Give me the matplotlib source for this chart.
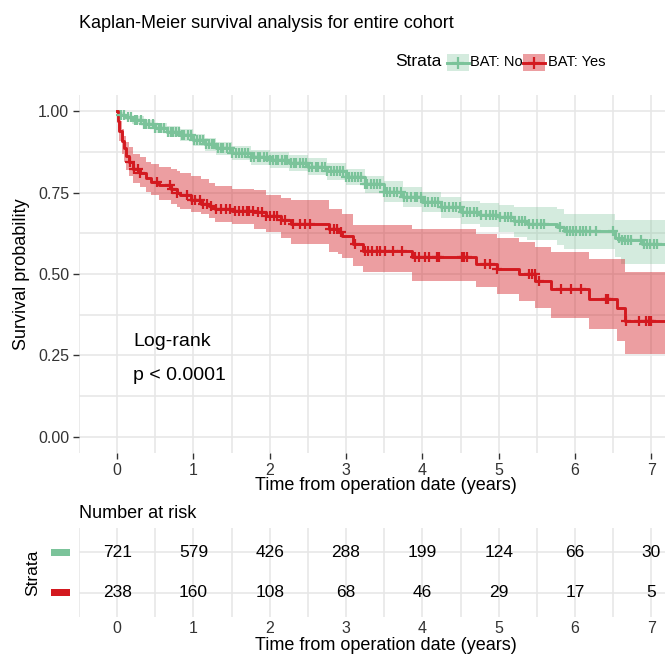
import numpy as np
import matplotlib
matplotlib.use("Agg")
import matplotlib.pyplot as plt
from matplotlib.patches import Rectangle
from matplotlib.lines import Line2D

plt.rcParams['font.family'] = ['Liberation Sans', 'DejaVu Sans']

# ---- data ----
groups = ["BAT: No", "BAT: Yes"]
colors = ["#7BC39A", "#D3191F"]

# BAT: No  (step curve, post)
no_t  = [0, 0.02, 0.10, 0.20, 0.35, 0.50, 0.65, 0.83, 1.00, 1.15, 1.30, 1.50, 1.75, 2.00, 2.25, 2.50,
         2.75, 3.00, 3.25, 3.50, 3.75, 4.00, 4.25, 4.50, 4.75, 5.00, 5.20, 5.37, 5.77, 5.85, 6.52, 6.60, 6.88, 7.30]
no_s  = [1.0, 0.990, 0.982, 0.973, 0.960, 0.948, 0.937, 0.927, 0.911, 0.898, 0.886, 0.872, 0.858, 0.850, 0.840, 0.829,
         0.815, 0.798, 0.776, 0.752, 0.736, 0.721, 0.705, 0.690, 0.682, 0.675, 0.662, 0.655, 0.645, 0.633, 0.612, 0.605, 0.593, 0.593]
no_lo = [1.0, 0.981, 0.972, 0.961, 0.946, 0.932, 0.920, 0.909, 0.892, 0.878, 0.865, 0.850, 0.835, 0.826, 0.815, 0.803,
         0.788, 0.772, 0.748, 0.722, 0.705, 0.690, 0.672, 0.655, 0.643, 0.629, 0.615, 0.603, 0.590, 0.577, 0.551, 0.531, 0.531, 0.531]
no_hi = [1.0, 0.997, 0.992, 0.985, 0.974, 0.964, 0.954, 0.945, 0.930, 0.918, 0.907, 0.894, 0.881, 0.874, 0.865, 0.855,
         0.842, 0.824, 0.802, 0.785, 0.768, 0.752, 0.738, 0.725, 0.718, 0.711, 0.707, 0.707, 0.700, 0.685, 0.665, 0.665, 0.665, 0.665]
no_cens = [0.05, 0.09, 0.14, 0.18, 0.23, 0.26, 0.31, 0.35, 0.38, 0.42, 0.47, 0.50, 0.55, 0.58, 0.62, 0.66, 0.70,
           0.73, 0.77, 0.81, 0.85, 0.88, 0.93, 0.97, 1.01, 1.04, 1.09, 1.12, 1.16, 1.20, 1.24, 1.27, 1.32, 1.36,
           1.39, 1.44, 1.48, 1.51, 1.56, 1.60, 1.63, 1.68, 1.72, 1.75, 1.80, 1.84, 1.87, 1.92, 1.96, 2.00, 2.04,
           2.08, 2.11, 2.16, 2.20, 2.23, 2.28, 2.32, 2.35, 2.40, 2.44, 2.47, 2.52, 2.56, 2.60, 2.63, 2.68, 2.72,
           2.75, 2.80, 2.84, 2.88, 2.92, 2.96, 3.00, 3.04, 3.08, 3.12, 3.16, 3.20, 3.25, 3.28, 3.33, 3.37, 3.41,
           3.45, 3.50, 3.54, 3.58, 3.63, 3.67, 3.72, 3.76, 3.80, 3.85, 3.90, 3.93, 3.98, 4.03, 4.07, 4.12, 4.16,
           4.21, 4.26, 4.30, 4.35, 4.40, 4.44, 4.49, 4.53, 4.58, 4.63, 4.68, 4.72, 4.77, 4.83, 4.88, 4.93, 4.97,
           5.02, 5.08, 5.12, 5.16, 5.21, 5.26, 5.30, 5.35, 5.40, 5.45, 5.50, 5.55, 5.60, 5.80, 5.89, 5.93, 5.97,
           6.02, 6.06, 6.10, 6.14, 6.20, 6.28, 6.50, 6.58, 6.62, 6.66, 6.70, 6.74, 6.86, 6.90, 6.94, 6.98, 7.03, 7.08]

# BAT: Yes
yes_t  = [0, 0.01, 0.03, 0.06, 0.09, 0.12, 0.15, 0.21, 0.30, 0.38, 0.44, 0.55, 0.70, 0.78, 0.83, 0.97, 1.10,
          1.20, 1.28, 1.50, 1.80, 1.95, 2.15, 2.28, 2.77, 2.90, 2.95, 3.09, 3.22, 3.87, 4.70, 4.98, 5.26, 5.48,
          5.68, 6.18, 6.55, 6.65, 7.30]
yes_s  = [1.0, 0.970, 0.940, 0.910, 0.886, 0.862, 0.845, 0.824, 0.809, 0.795, 0.784, 0.772, 0.762, 0.750, 0.742,
          0.726, 0.716, 0.708, 0.700, 0.695, 0.690, 0.678, 0.666, 0.654, 0.639, 0.628, 0.618, 0.593, 0.572, 0.551,
          0.531, 0.515, 0.500, 0.480, 0.453, 0.424, 0.395, 0.356, 0.356]
yes_lo = [1.0, 0.950, 0.910, 0.870, 0.845, 0.820, 0.800, 0.780, 0.768, 0.752, 0.742, 0.728, 0.715, 0.705, 0.700,
          0.690, 0.685, 0.672, 0.660, 0.654, 0.637, 0.629, 0.610, 0.593, 0.567, 0.560, 0.550, 0.526, 0.506, 0.479,
          0.459, 0.438, 0.418, 0.397, 0.366, 0.330, 0.294, 0.253, 0.253]
yes_hi = [1.0, 0.990, 0.970, 0.945, 0.925, 0.905, 0.890, 0.870, 0.860, 0.845, 0.838, 0.830, 0.822, 0.815, 0.810,
          0.800, 0.793, 0.780, 0.770, 0.762, 0.757, 0.742, 0.734, 0.726, 0.700, 0.700, 0.685, 0.650, 0.650, 0.639,
          0.623, 0.610, 0.598, 0.582, 0.567, 0.546, 0.546, 0.505, 0.505]
yes_cens = [0.17, 0.22, 0.27, 0.30, 0.52, 0.69, 0.72, 0.78, 0.92, 0.98, 1.02, 1.08, 1.13, 1.18, 1.23, 1.30, 1.36,
            1.42, 1.48, 1.55, 1.60, 1.65, 1.70, 1.73, 1.78, 1.85, 1.90, 1.95, 2.00, 2.05, 2.10, 2.15, 2.20, 2.31,
            2.40, 2.46, 2.53, 2.79, 2.84, 2.88, 2.93, 3.12, 3.25, 3.29, 3.34, 3.41, 3.45, 3.51, 3.62, 3.73, 3.91,
            3.96, 4.04, 4.09, 4.19, 4.22, 4.52, 4.55, 4.58, 4.82, 4.89, 4.98, 5.40, 5.44, 5.47, 5.53, 5.82, 5.95,
            6.08, 6.41, 6.43, 6.67, 6.84, 6.93, 6.97, 7.00]

risk_times = [0, 1, 2, 3, 4, 5, 6, 7]
risk_no = [721, 579, 426, 288, 199, 124, 66, 30]
risk_yes = [238, 160, 108, 68, 46, 29, 17, 5]

curves = [(no_t, no_s, no_lo, no_hi, no_cens), (yes_t, yes_s, yes_lo, yes_hi, yes_cens)]
band_alpha = [0.32, 0.42]

W, H = 665, 655
fig = plt.figure(figsize=(W / 100, H / 100), dpi=100)

def fx(px):
    return px / W

def fy(py):
    return 1 - py / H

grid_c = "#E6E6E6"
tick_c = "#333333"
XMIN, XMAX = -0.5, 7.18

# ---- main KM panel ----
ax = fig.add_axes([fx(79), fy(453), fx(665) - fx(79), fy(95) - fy(453)])
for sp in ax.spines.values():
    sp.set_visible(False)
ax.set_xlim(XMIN, XMAX)
ax.set_ylim(-0.05, 1.05)
ax.set_xticks(range(0, 8))
ax.set_yticks([0, 0.25, 0.5, 0.75, 1.0])
ax.set_yticklabels(["0.00", "0.25", "0.50", "0.75", "1.00"])
ax.set_xticks(np.arange(-0.5, 7.5, 1.0), minor=True)
ax.set_yticks([0.125, 0.375, 0.625, 0.875], minor=True)
ax.grid(True, which="both", color=grid_c, lw=1.1)
ax.set_axisbelow(True)
ax.tick_params(which="major", length=4, width=1, color=tick_c, labelsize=11.5, labelcolor=tick_c, pad=3)
ax.tick_params(which="minor", length=0)

for (t, s, lo, hi, cens), c, a in zip(curves, colors, band_alpha):
    t = np.array(t); s = np.array(s)
    ax.fill_between(t, lo, hi, step="post", color=c, alpha=a, lw=0)
    ax.step(t, s, where="post", color=c, lw=2.1, zorder=3)
    idx = np.searchsorted(t, cens, side="right") - 1
    ax.plot(cens, s[idx], ls="none", marker="+", ms=7.5, mew=1.6, color=c, zorder=4)

ax.text(0.21, 0.293, "Log-rank", fontsize=14, va="center", ha="left", color="black")
ax.text(0.21, 0.188, "p < 0.0001", fontsize=14, va="center", ha="left", color="black")
ax.set_ylabel("Survival probability", fontsize=13, color="black", labelpad=6)
fig.text(fx(386), fy(486), "Time from operation date (years)", fontsize=13, ha="center", va="center")

# ---- title and legend ----
fig.text(fx(79), fy(23), "Kaplan-Meier survival analysis for entire cohort", fontsize=13,
         ha="left", va="center")
fig.text(fx(395), fy(62), "Strata", fontsize=12.5, ha="left", va="center")
key_x = [447, 523]
lab_x = [470, 548]
for g, c, kx, lx, a in zip(groups, colors, key_x, lab_x, band_alpha):
    fig.add_artist(Rectangle((fx(kx), fy(71)), fx(kx + 22) - fx(kx), fy(54) - fy(71),
                             transform=fig.transFigure, facecolor=c, alpha=a, edgecolor="none"))
    fig.add_artist(Line2D([fx(kx), fx(kx + 22)], [fy(62.5), fy(62.5)], transform=fig.transFigure,
                          color=c, lw=2.1))
    fig.add_artist(Line2D([fx(kx + 11)], [fy(62.5)], transform=fig.transFigure, color=c,
                          marker="+", ms=8, mew=1.6))
    fig.text(fx(lx), fy(62), g, fontsize=10.5, ha="left", va="center")

# ---- risk table ----
rax = fig.add_axes([fx(79), fy(617), fx(665) - fx(79), fy(528) - fy(617)])
for sp in rax.spines.values():
    sp.set_visible(False)
rax.set_xlim(XMIN, XMAX)
rax.set_ylim(0.4, 2.6)
rax.set_xticks(range(0, 8))
rax.set_xticks(np.arange(-0.5, 7.5, 1.0), minor=True)
rax.set_yticks([1, 2])
rax.set_yticklabels(["", ""])
rax.grid(True, which="both", axis="x", color=grid_c, lw=1.1)
rax.grid(True, which="major", axis="y", color=grid_c, lw=1.1)
rax.set_axisbelow(True)
rax.tick_params(which="both", length=0, labelsize=11.5, labelcolor=tick_c, pad=3)
for row, vals in zip([2, 1], [risk_no, risk_yes]):
    for xt, v in zip(risk_times, vals):
        rax.text(xt, row, str(v), fontsize=12.5, ha="center", va="center", color="black")
for row, c in zip([2, 1], colors):
    ypix = H - rax.transData.transform((0, row))[1]
    fig.add_artist(Rectangle((fx(51), fy(ypix + 3.5)), fx(70) - fx(51), fy(ypix - 3.5) - fy(ypix + 3.5),
                             transform=fig.transFigure, facecolor=c, edgecolor="none"))
fig.text(fx(33), fy(573), "Strata", fontsize=12.5, rotation=90, ha="center", va="center")
fig.text(fx(79), fy(514), "Number at risk", fontsize=13, ha="left", va="center")
fig.text(fx(386), fy(646), "Time from operation date (years)", fontsize=13, ha="center", va="center")

fig.savefig("out.png", dpi=100)
